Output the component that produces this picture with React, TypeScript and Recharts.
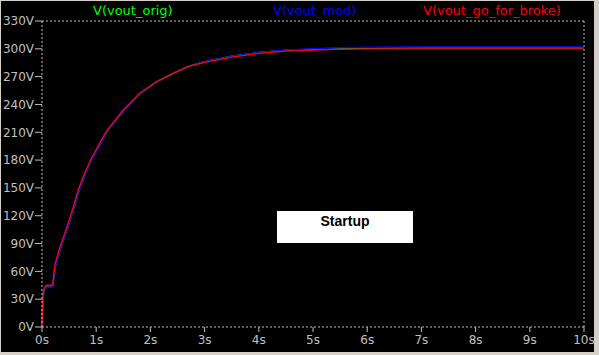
import { Line, LineChart, ReferenceLine, XAxis, YAxis } from "recharts";

// time axis (seconds) and the three output traces (volts)
const TIME = [
  0, 0.005, 0.02, 0.04, 0.08, 0.18, 0.2, 0.24, 0.33, 0.46, 0.58, 0.67, 0.76, 0.9, 1.1, 1.2, 1.5,
  1.8, 2.1, 2.4, 2.7, 3.0, 3.5, 4.0, 4.5, 5.0, 5.5, 6.0, 7.0, 8.0, 9.0, 10.0,
];
const VOUT_ORIG = [
  0, 12, 33, 40, 43, 43, 45, 64, 83, 105, 127, 145, 160, 179, 200, 211, 233, 251, 264, 273, 281,
  286, 292, 296, 298.5, 299.5, 300.5, 301, 301.5, 301.5, 301.5, 301.5,
];
const VOUT_MOD = [
  0, 12, 33, 40, 43, 43, 45, 64, 83, 105, 127, 145, 160, 179, 200, 211, 233, 251, 264, 273, 281,
  286, 292, 296, 298.8, 300.2, 301.2, 301.6, 302, 302, 302, 302,
];
const VOUT_GO_FOR_BROKE = [
  0, 15, 36, 42, 45, 45, 47, 68, 86, 108, 130, 148, 162, 181, 202, 212, 234, 252, 264, 273, 281,
  285.5, 291, 295, 297.5, 298.5, 299.5, 300, 300, 300, 300, 300,
];

const X_TICKS = [0, 1, 2, 3, 4, 5, 6, 7, 8, 9, 10];
const Y_TICKS = [0, 30, 60, 90, 120, 150, 180, 210, 240, 270, 300, 330];

const GRAY = "#c0c0c0";
const FONT = "'DejaVu Sans', sans-serif";

const rows = TIME.map((t, i) => ({
  t,
  orig: VOUT_ORIG[i],
  mod: VOUT_MOD[i],
  broke: VOUT_GO_FOR_BROKE[i],
}));

const tickStyle = { fill: GRAY, fontSize: 12, fontFamily: FONT };
const titleStyle = { position: "absolute" as const, top: 3, fontFamily: FONT, fontSize: 13 };

export default function App() {
  return (
    <div
      style={{
        position: "absolute",
        left: 0,
        top: 0,
        width: 599,
        height: 355,
        background: "#d4d0c8",
        overflow: "hidden",
      }}
    >
      <div
        style={{ position: "absolute", left: 1, top: 1, width: 593, height: 351, background: "#000" }}
      />
      <div style={{ position: "absolute", left: 0, top: 0 }}>
        <LineChart width={599} height={355} data={rows} margin={{ top: 21, right: 15, left: 0, bottom: 0 }}>
          <XAxis
            dataKey="t"
            type="number"
            domain={[0, 10]}
            ticks={X_TICKS}
            tickFormatter={(v: number) => `${v}s`}
            height={28}
            tick={tickStyle}
            tickSize={5}
            tickMargin={3}
            axisLine={{ stroke: GRAY, strokeDasharray: "2 2" }}
            tickLine={{ stroke: GRAY }}
            interval={0}
          />
          <YAxis
            type="number"
            domain={[0, 330]}
            ticks={Y_TICKS}
            tickFormatter={(v: number) => `${v}V`}
            width={42}
            tick={tickStyle}
            tickSize={7}
            tickMargin={1}
            axisLine={{ stroke: GRAY, strokeDasharray: "2 2" }}
            tickLine={{ stroke: GRAY }}
            interval={0}
          />
          <ReferenceLine y={330} stroke={GRAY} strokeDasharray="2 2" />
          <ReferenceLine x={10} stroke={GRAY} strokeDasharray="2 2" />
          <Line type="linear" dataKey="orig" stroke="#00ff00" strokeWidth={1.5} dot={false} isAnimationActive={false} />
          <Line type="linear" dataKey="mod" stroke="#0000ff" strokeWidth={1.5} dot={false} isAnimationActive={false} />
          <Line type="linear" dataKey="broke" stroke="#ff0000" strokeWidth={1.3} dot={false} isAnimationActive={false} />
        </LineChart>
      </div>
      <span style={{ ...titleStyle, left: 93, color: "#00ff00" }}>V(vout_orig)</span>
      <span style={{ ...titleStyle, left: 273, color: "#0000ff" }}>V(vout_mod)</span>
      <span style={{ ...titleStyle, left: 423, color: "#ff0000" }}>V(vout_go_for_broke)</span>
      <div
        style={{
          position: "absolute",
          left: 277,
          top: 211,
          width: 136,
          height: 32,
          background: "#fff",
          color: "#000",
          fontFamily: "'Liberation Sans', Arial, sans-serif",
          fontSize: 14,
          fontWeight: "bold",
          textAlign: "center",
          lineHeight: "18px",
          paddingTop: 1,
          boxSizing: "border-box",
        }}
      >
        Startup
      </div>
    </div>
  );
}
